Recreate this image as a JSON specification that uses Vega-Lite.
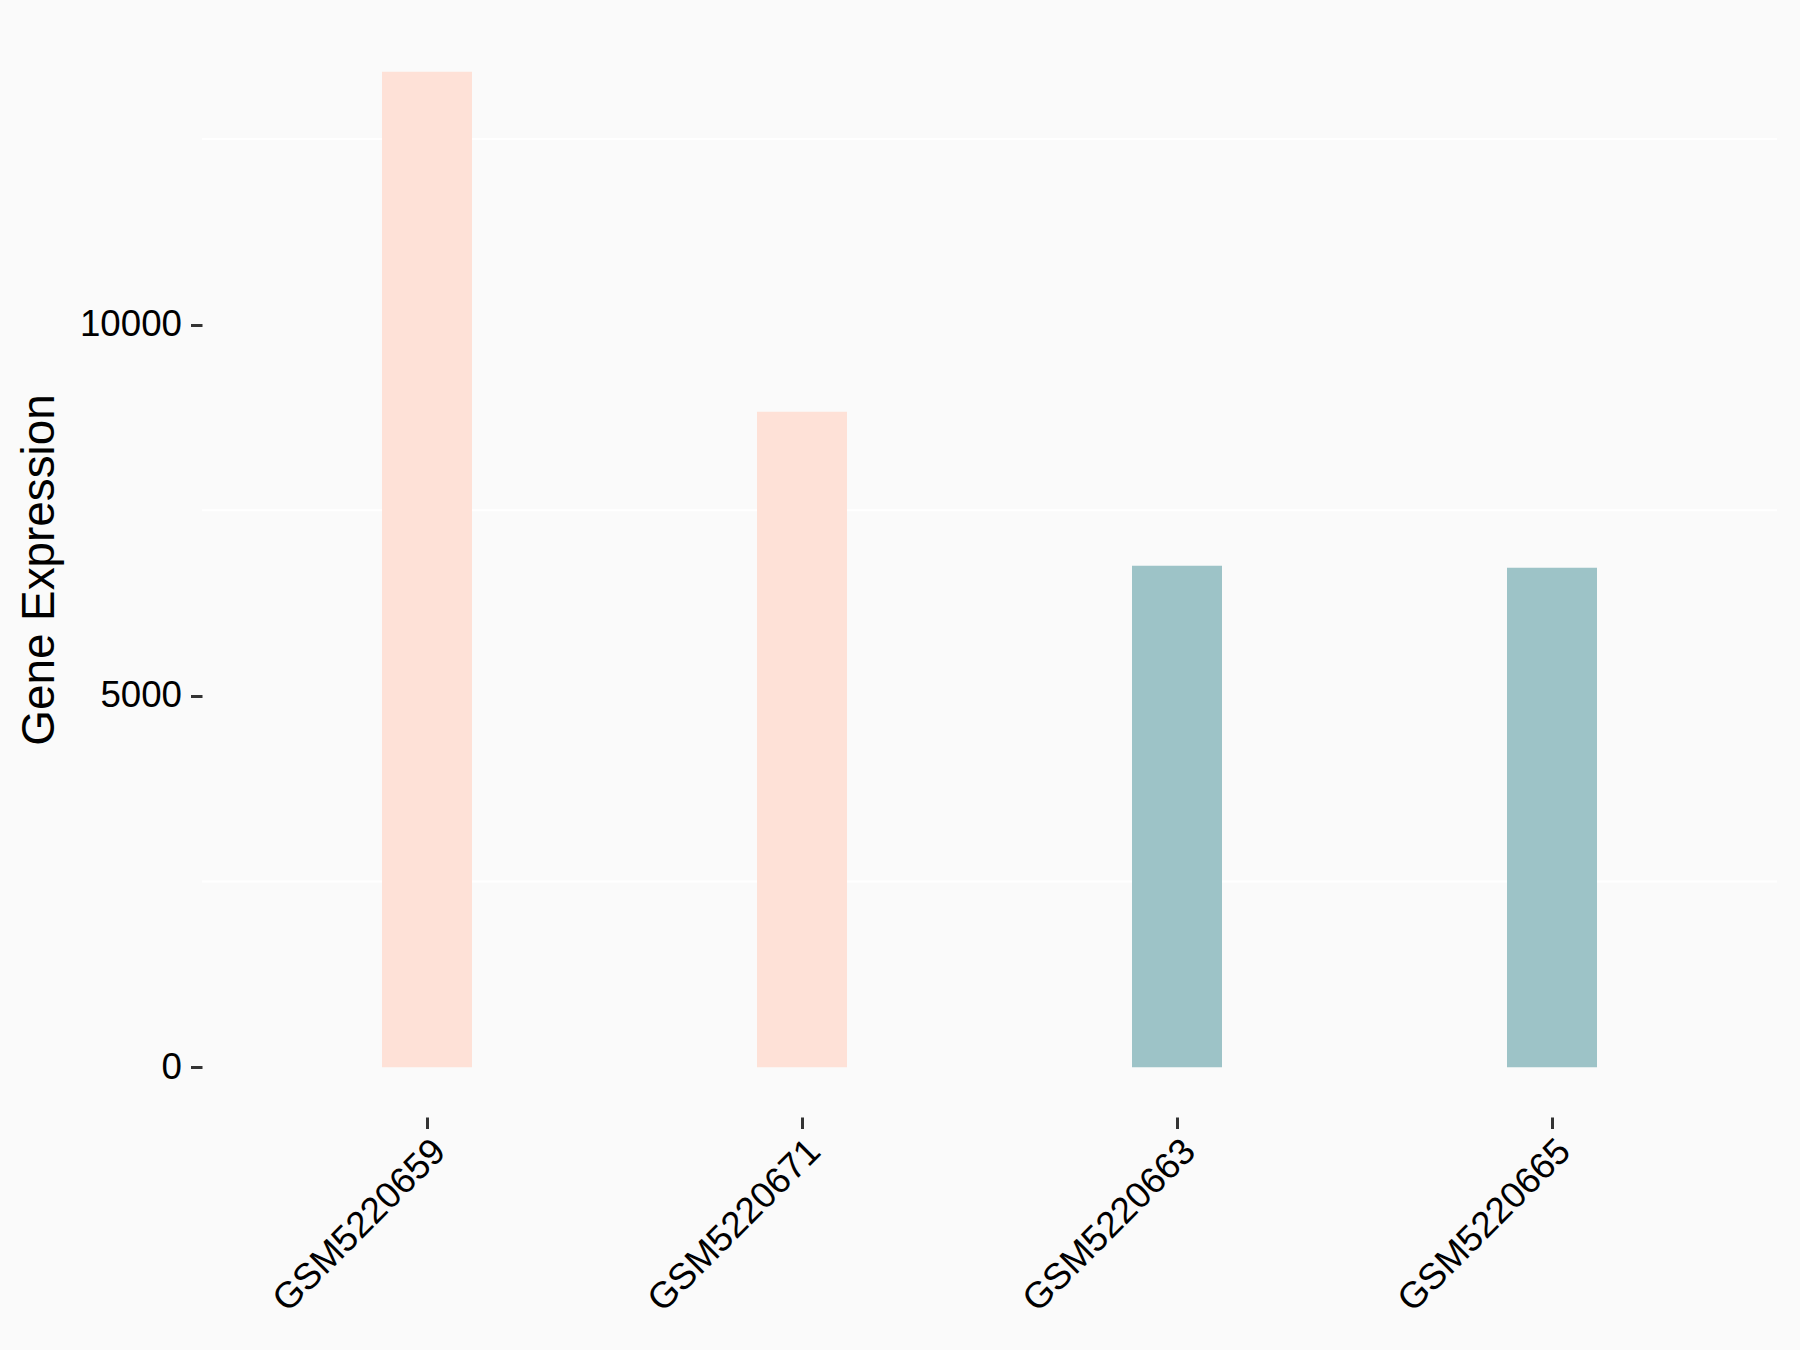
{
  "$schema": "https://vega.github.io/schema/vega-lite/v6.json",
  "width": 1575,
  "height": 1095,
  "autosize": {"type": "none"},
  "padding": {"left": 202, "top": 22, "right": 23, "bottom": 233},
  "background": "#FAFAFA",
  "config": {
    "view": {"stroke": null},
    "font": "Liberation Sans",
    "axis": {"labelFont": "Liberation Sans", "titleFont": "Liberation Sans", "labelLimit": 1000}
  },
  "datasets": {
    "bars": [
      {"sample": "GSM5220659", "expression": 13405, "group": "A"},
      {"sample": "GSM5220671", "expression": 8827, "group": "A"},
      {"sample": "GSM5220663", "expression": 6754, "group": "B"},
      {"sample": "GSM5220665", "expression": 6727, "group": "B"}
    ],
    "grid": [
      {"level": 2500},
      {"level": 7500},
      {"level": 12500}
    ]
  },
  "layer": [
    {
      "data": {"name": "grid"},
      "mark": {"type": "rule", "color": "#FFFFFF", "strokeWidth": 2},
      "encoding": {
        "y": {
          "field": "level", "type": "quantitative",
          "scale": {"domain": [-670, 14075], "nice": false, "zero": false},
          "axis": {
            "title": "Gene Expression", "values": [0, 5000, 10000], "format": "d", "grid": false, "domain": false,
            "labelFontSize": 36.7, "labelColor": "#000000", "tickColor": "#333333", "tickWidth": 3, "tickSize": 11.5,
            "labelPadding": 9, "titleFontSize": 45.8, "titleFontWeight": "normal", "titleColor": "#000000", "titlePadding": 16
          }
        }
      }
    },
    {
      "data": {"name": "bars"},
      "mark": {"type": "bar"},
      "encoding": {
        "x": {
          "field": "sample", "type": "nominal", "sort": null,
          "scale": {"paddingInner": 0.76, "paddingOuter": 0.48},
          "axis": {
            "title": null, "domain": false, "labelAngle": -45, "labelAlign": "right", "labelBaseline": "top",
            "labelFontSize": 36.7, "labelColor": "#000000", "tickColor": "#333333", "tickWidth": 3, "tickSize": 11.5,
            "labelPadding": 4, "labelDx": 18
          }
        },
        "y": {
          "field": "expression", "type": "quantitative",
          "scale": {"domain": [-670, 14075], "nice": false, "zero": false},
          "axis": {
            "title": "Gene Expression", "values": [0, 5000, 10000], "format": "d", "grid": false, "domain": false,
            "labelFontSize": 36.7, "labelColor": "#000000", "tickColor": "#333333", "tickWidth": 3, "tickSize": 11.5,
            "labelPadding": 9, "titleFontSize": 45.8, "titleFontWeight": "normal", "titleColor": "#000000", "titlePadding": 16
          }
        },
        "y2": {"datum": 0},
        "color": {
          "field": "group", "type": "nominal",
          "scale": {"domain": ["A", "B"], "range": ["#FEE1D7", "#9DC3C7"]},
          "legend": null
        }
      }
    }
  ]
}
